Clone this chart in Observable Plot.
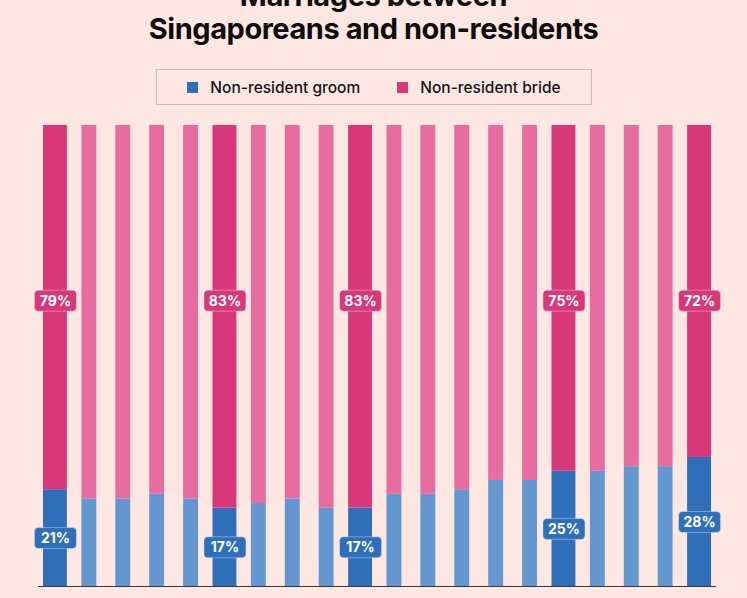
<!DOCTYPE html>
<html>
<head>
<meta charset="utf-8">
<script src="https://cdn.jsdelivr.net/npm/d3@7"></script>
<script src="https://cdn.jsdelivr.net/npm/@observablehq/plot@0.6"></script>
<style>
html, body { margin: 0; padding: 0; background: #fde7e2; width: 747px; height: 598px; overflow: hidden; font-family: Inter, Roboto, "Noto Sans", sans-serif; }
#title { position: absolute; left: 0; top: -21px; width: 747px; margin: 0; text-align: center; font-weight: 700; font-size: 29px; line-height: 33px; color: #0d0d0d; letter-spacing: -0.45px; }
#legend { position: absolute; left: 156px; top: 69px; width: 434px; height: 34px; border: 1px solid #cbbcb7; display: flex; align-items: center; justify-content: center; gap: 37px; font-size: 15.5px; font-weight: 500; color: #161616; }
.item { display: flex; align-items: center; gap: 12px; }
.sw { width: 11px; height: 11px; display: inline-block; }
#chart { position: absolute; left: 0; top: 115px; }
</style>
</head>
<body>
<div id="title">Marriages between<br>Singaporeans and non-residents</div>
<div id="legend"></div>
<div id="chart"></div>
<script>
// ---- data ----
const years = ["2002","2003","2004","2005","2006","2007","2008","2009","2010","2011",
               "2012","2013","2014","2015","2016","2017","2018","2019","2020","2021"];
const groomShare = [21,19,19,20,19,17,18,19,17,17,20,20,21,23,23,25,25,26,26,28];
const brideShare = [79,81,81,80,81,83,82,81,83,83,80,80,79,77,77,75,75,74,74,72];
const highlighted = ["2002","2007","2011","2017","2021"];
const seriesNames = ["Non-resident groom", "Non-resident bride"];

// ---- styles ----
const colors = {
  "groom-hl": "#2f6fb9",
  "groom": "#6497cf",
  "bride-hl": "#d8387a",
  "bride": "#e86c9f"
};

const rows = years.flatMap((yr, i) => {
  const hl = highlighted.includes(yr);
  return [
    {year: yr, type: "groom", value: groomShare[i], hl, key: "groom" + (hl ? "-hl" : "")},
    {year: yr, type: "bride", value: brideShare[i], hl, key: "bride" + (hl ? "-hl" : "")}
  ];
});
const hlRows = rows.filter(d => d.hl);
const BRIDE_LABEL_Y = 62; // label placement level for bride share labels
const labelRows = hlRows.map(d => ({...d, ly: d.type === "groom" ? d.value / 2 : BRIDE_LABEL_Y}));

// legend
const legend = document.getElementById("legend");
[["groom-hl", seriesNames[0]], ["bride-hl", seriesNames[1]]].forEach(([k, name]) => {
  const it = document.createElement("div");
  it.className = "item";
  it.innerHTML = `<span class="sw" style="background:${colors[k]}"></span><span>${name}</span>`;
  legend.appendChild(it);
});

const roundRect = {
  draw(ctx) {
    const w = 42, h = 21, r = 4, x0 = -w / 2, y0 = -h / 2;
    ctx.moveTo(x0 + r, y0);
    ctx.lineTo(x0 + w - r, y0);
    ctx.arcTo(x0 + w, y0, x0 + w, y0 + r, r);
    ctx.lineTo(x0 + w, y0 + h - r);
    ctx.arcTo(x0 + w, y0 + h, x0 + w - r, y0 + h, r);
    ctx.lineTo(x0 + r, y0 + h);
    ctx.arcTo(x0, y0 + h, x0, y0 + h - r, r);
    ctx.lineTo(x0, y0 + r);
    ctx.arcTo(x0, y0, x0 + r, y0, r);
    ctx.closePath();
  }
};

const chart = Plot.plot({
  width: 747,
  height: 483,
  marginLeft: 38,
  marginRight: 31,
  marginTop: 10,
  marginBottom: 12,
  style: {background: "transparent", fontFamily: "Inter, Roboto, sans-serif"},
  x: {type: "band", domain: years, padding: 0, round: false, axis: null},
  y: {domain: [0, 100], axis: null},
  color: {domain: Object.keys(colors), range: Object.values(colors)},
  marks: [
    Plot.barY(rows.filter(d => !d.hl), {x: "year", y: "value", z: "type", fill: "key", insetLeft: 9.5, insetRight: 9.5}),
    Plot.barY(hlRows, {x: "year", y: "value", z: "type", fill: "key", insetLeft: 5, insetRight: 5}),
    Plot.ruleY([0], {stroke: "#3a3a3a", strokeWidth: 1.2}),
    Plot.dot(labelRows, {x: "year", y: "ly", symbol: roundRect, fill: "key", stroke: "rgba(255,255,255,0.35)", strokeWidth: 1, r: 10}),
    Plot.text(labelRows, {x: "year", y: "ly", text: d => d.value + "%", fill: "white", fontSize: 14, fontWeight: 700, dy: 0.5})
  ]
});
document.getElementById("chart").appendChild(chart);
</script>
</body>
</html>
